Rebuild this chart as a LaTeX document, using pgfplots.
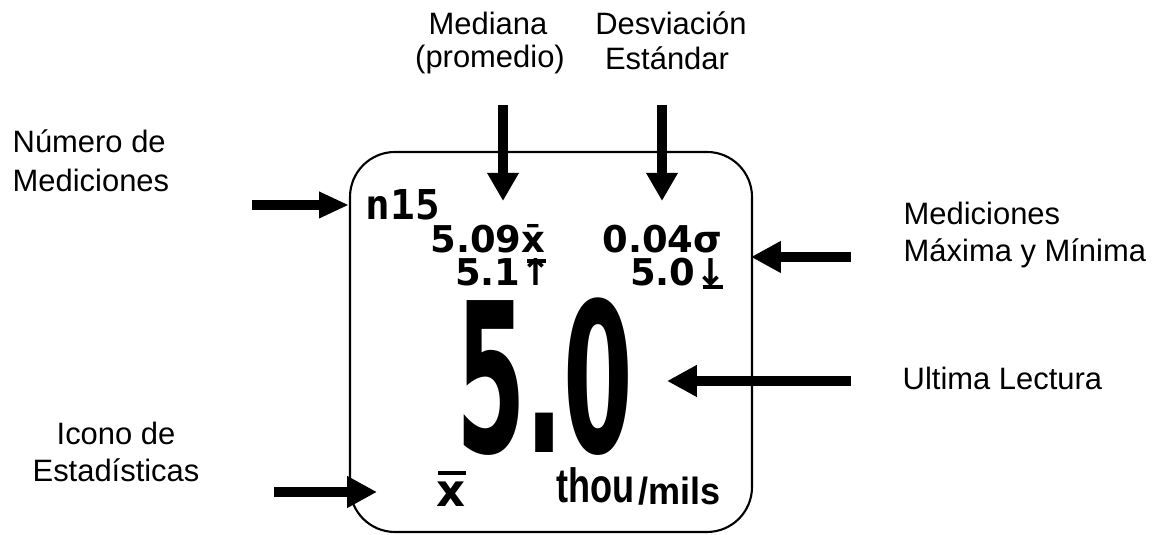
\documentclass[border=0pt]{standalone}
\usepackage{fontspec}
\setmainfont{Liberation Sans}
\newfontfamily\lcd{DejaVu Sans}
\newfontfamily\lcdmono{DejaVu Sans Mono}
\usepackage{pgfplots}
\pgfplotsset{compat=1.18}
\usetikzlibrary{arrows.meta}
\newcommand{\lab}{\fontsize{8.8}{10.5}\selectfont}
\begin{document}
\begin{tikzpicture}
\useasboundingbox (0,0) rectangle (115.7mm,53.5mm);
\begin{axis}[x=0.1mm, y=0.1mm, y dir=reverse, xmin=0, xmax=1157, ymin=0, ymax=535,
  hide axis, clip=false, anchor=south west, at={(0,0)}]
% display frame
\addplot[black, line width=0.6pt, rounded corners=12.8pt] coordinates {(550,152) (752,152) (752,532) (350,532) (350,152) (550,152)};
% arrows
\addplot[black, line width=2.6pt, -{Triangle[length=8.5pt, width=7pt]}] coordinates {(252,205) (349,205)};
\addplot[black, line width=2.6pt, -{Triangle[length=8pt, width=8.5pt]}] coordinates {(503,105) (503,201)};
\addplot[black, line width=2.6pt, -{Triangle[length=8pt, width=8.5pt]}] coordinates {(662,105) (662,201)};
\addplot[black, line width=2.6pt, -{Triangle[length=8.5pt, width=8.5pt]}] coordinates {(851,257) (751,257)};
\addplot[black, line width=2.6pt, -{Triangle[length=8.5pt, width=8.5pt]}] coordinates {(851,381) (667,381)};
\addplot[black, line width=2.6pt, -{Triangle[length=8.5pt, width=8.5pt]}] coordinates {(274,492) (377,492)};
% labels
\node[anchor=base west, inner sep=0, font=\lab] at (axis cs:12,153) {Número de};
\node[anchor=base west, inner sep=0, font=\lab] at (axis cs:12,192) {Mediciones};
\node[anchor=base, inner sep=0, font=\lab] at (axis cs:488,35) {Mediana};
\node[anchor=base, inner sep=0, font=\lab] at (axis cs:490,68) {(promedio)};
\node[anchor=base, inner sep=0, font=\lab] at (axis cs:671,35) {Desviación};
\node[anchor=base, inner sep=0, font=\lab] at (axis cs:667,70) {Estándar};
\node[anchor=base west, inner sep=0, font=\lab] at (axis cs:903,225) {Mediciones};
\node[anchor=base west, inner sep=0, font=\lab] at (axis cs:903,262) {Máxima y Mínima};
\node[anchor=base west, inner sep=0, font=\lab] at (axis cs:902,390) {Ultima Lectura};
\node[anchor=base, inner sep=0, font=\lab] at (axis cs:116,445) {Icono de};
\node[anchor=base, inner sep=0, font=\lab] at (axis cs:116,482) {Estadísticas};
% display content
\node[anchor=base west, inner sep=0, font=\lcdmono\bfseries\fontsize{11.7}{12}\selectfont] at (axis cs:365,220) {n15};
\node[anchor=base east, inner sep=0, font=\lcd\bfseries\fontsize{10.5}{11}\selectfont] at (axis cs:546,253) {5.09x^^^^0304};
\node[anchor=base east, inner sep=0, font=\lcd\bfseries\fontsize{10.5}{11}\selectfont] at (axis cs:552,286) {5.1↑};
\addplot[black, line width=1.1pt] coordinates {(527,261) (546,261)};
\node[anchor=base east, inner sep=0, font=\lcd\bfseries\fontsize{10.5}{11}\selectfont] at (axis cs:723,253) {0.04σ};
\node[anchor=base east, inner sep=0, font=\lcd\bfseries\fontsize{10.5}{11}\selectfont] at (axis cs:727,286) {5.0↓};
\addplot[black, line width=1.1pt] coordinates {(703,287) (723,287)};
\node[anchor=base west, inner sep=0, xscale=0.48, font=\lcd\bfseries\fontsize{59.3}{60}\selectfont] at (axis cs:456,453) {5.0};
\node[anchor=base west, inner sep=0, font=\lcd\bfseries\fontsize{12.8}{13}\selectfont] at (axis cs:436,507) {x};
\addplot[black, line width=1.2pt] coordinates {(438,473) (466,473)};
\node[anchor=base west, inner sep=0, xscale=0.75, font=\bfseries\fontsize{13.7}{14}\selectfont] at (axis cs:556,503) {thou};
\node[anchor=base west, inner sep=0, xscale=0.95, font=\bfseries\fontsize{10.8}{11}\selectfont] at (axis cs:638,505) {/mils};
\end{axis}
\end{tikzpicture}
\end{document}
